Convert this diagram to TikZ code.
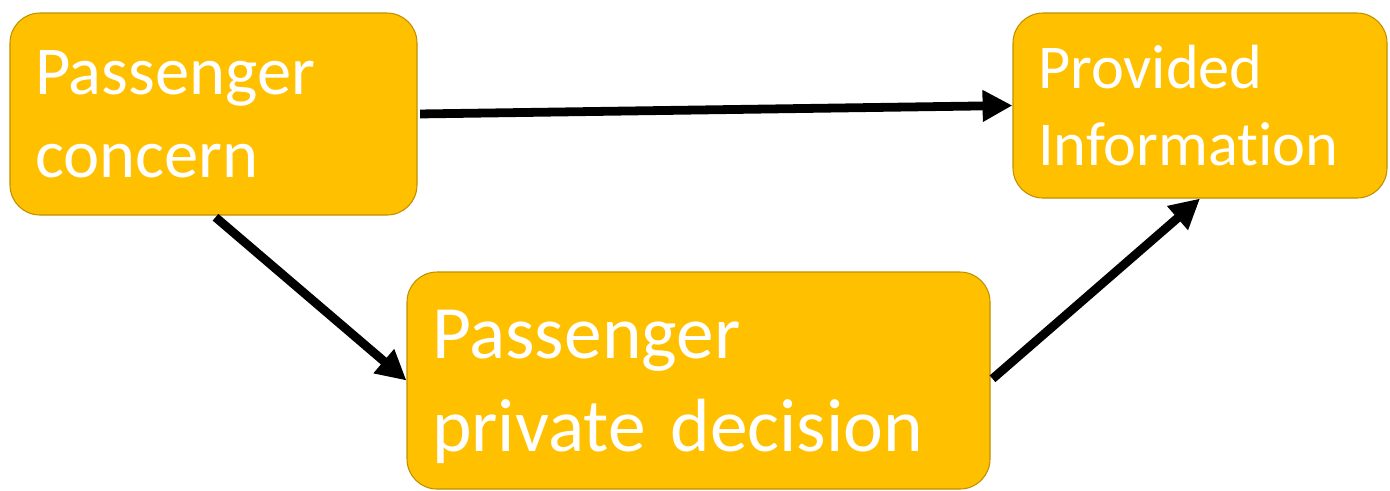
\documentclass[tikz,border=0pt]{standalone}
\usepackage{fontspec}
\setmainfont{Carlito}[Ligatures=NoCommon]
\usetikzlibrary{arrows.meta}
\definecolor{boxgold}{HTML}{FFC000}
\definecolor{boxedge}{HTML}{BF9000}

\begin{document}
\begin{tikzpicture}[
    stage/.style={draw=boxedge, line width=0.6pt, fill=boxgold, rounded corners=0.6cm,
      text=white, align=left, inner xsep=0.5cm, inner ysep=0pt},
    link/.style={line width=5pt, shorten <=1.5pt, -{Triangle[length=17pt, width=17pt]}}
  ]
  \useasboundingbox (0, 0) rectangle (27.8, -9.8);

  \node[stage, minimum width=8.14cm, minimum height=4.04cm, text width=7.14cm,
    font=\fontsize{39}{47}\selectfont] (concern) at (4.27, -2.28) {Passenger\\concern};
  \node[stage, minimum width=7.48cm, minimum height=3.7cm, text width=6.48cm,
    font=\fontsize{35.5}{43.7}\selectfont] (info) at (24.0, -2.11) {Provided\\Information};
  \node[stage, minimum width=11.66cm, minimum height=4.34cm, text width=10.66cm,
    font=\fontsize{42.9}{52.7}\selectfont] (decision) at (13.97, -7.61)
    {Passenger\\\raisebox{0pt}[\height][0pt]{private decision}};

  \draw[link] (concern.east) -- (info.west);
  \draw[link] (concern.south) -- (decision.west);
  \draw[link] (decision.east) -- (info.south);
\end{tikzpicture}
\end{document}
